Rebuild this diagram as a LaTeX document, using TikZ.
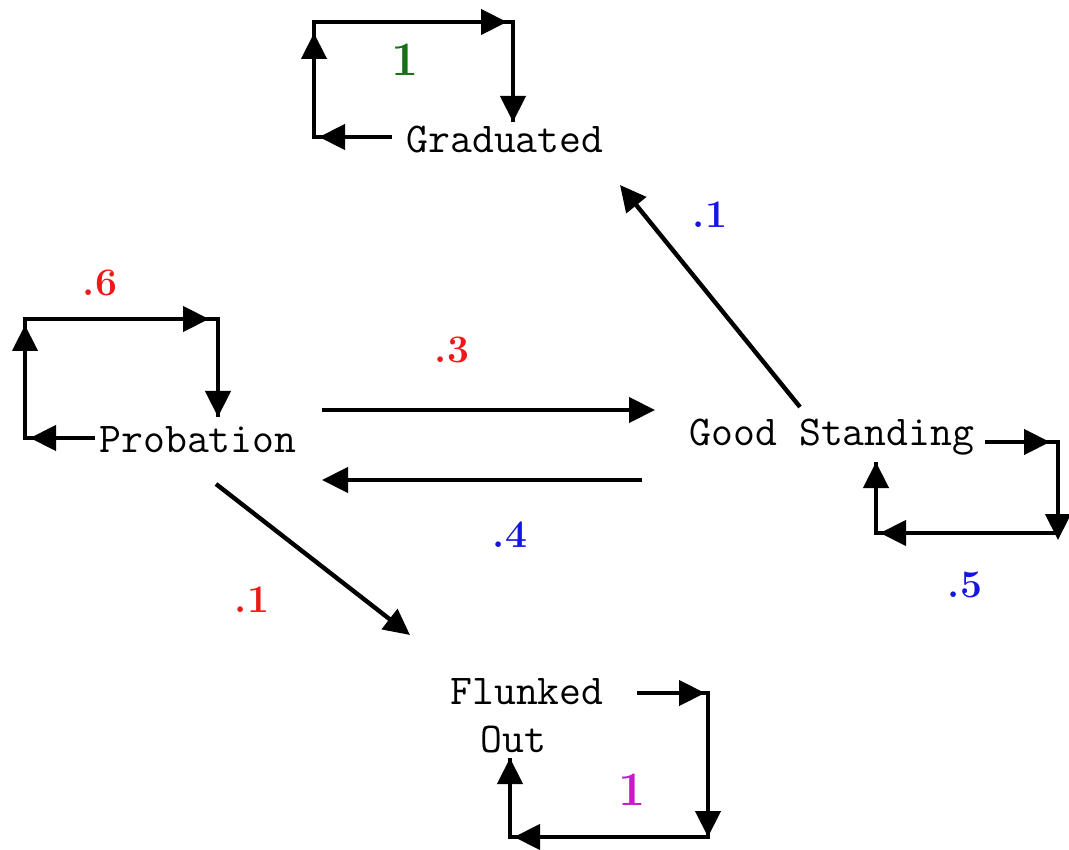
\documentclass[tikz,border=0pt]{standalone}
\usetikzlibrary{arrows.meta,calc}
\definecolor{wred}{RGB}{238,24,24}
\definecolor{wblue}{RGB}{22,22,228}
\definecolor{wgreen}{RGB}{22,112,22}
\definecolor{wmagenta}{RGB}{205,22,205}
\tikzset{
  state/.style={font=\fontsize{42.5}{48}\selectfont\ttfamily, inner sep=0pt},
  weight/.style={font=\fontsize{39}{44}\selectfont\bfseries, inner sep=0pt},
  unit/.style={font=\fontsize{48}{56}\selectfont\bfseries, inner sep=0pt},
  rail/.style={line width=4.4pt, line join=miter},
  edge/.style={line width=4.4pt, -{Triangle[length=26pt,width=25pt]}},
}
\begin{document}
\begin{tikzpicture}[x=1pt,y=-1pt]
\useasboundingbox (0,0) rectangle (1069,850);

% states
\node[state] (grad)  at (505,140) {Graduated};
\node[state] (prob)  at (198,440) {Probation};
\node[state] (good)  at (832,437) {Good Standing};
\node[state, align=left] (flunk) at (527,716) {Flunked\\\hspace{30pt}Out};

% transitions between states
\draw[edge] ($(prob)+(124,-30)$) -- ($(good)+(-177,-27)$);
\draw[edge] ($(good)+(-190,43)$) -- ($(prob)+(124,40)$);
\draw[edge] ($(good)+(-32,-30)$) -- ($(grad)+(115,45)$);
\draw[edge] ($(prob)+(18,44)$) -- ($(flunk)+(-117,-81)$);

% self loop: Graduated
\coordinate (g0) at ($(grad)+(-113,-3)$);
\coordinate (g1) at (314,137);
\coordinate (g2) at (314,22);
\coordinate (g3) at (513,22);
\coordinate (g4) at (513,122);
\draw[rail] (g0) -- (g1) -- (g2) -- (g3) -- (g4);
\draw[edge, shorten >=5pt] (g0) -- (g1);
\draw[edge, shorten >=11pt] (g1) -- (g2);
\draw[edge, shorten >=6pt] (g2) -- (g3);
\draw[edge] (g3) -- (g4);

% self loop: Probation
\coordinate (p0) at ($(prob)+(-103,-2)$);
\coordinate (p1) at (25,438);
\coordinate (p2) at (25,319);
\coordinate (p3) at (218,319);
\coordinate (p4) at (218,417);
\draw[rail] (p0) -- (p1) -- (p2) -- (p3) -- (p4);
\draw[edge, shorten >=5pt] (p0) -- (p1);
\draw[edge, shorten >=6pt] (p1) -- (p2);
\draw[edge, shorten >=9pt] (p2) -- (p3);
\draw[edge] (p3) -- (p4);

% self loop: Good Standing
\coordinate (s0) at ($(good)+(153,5)$);
\coordinate (s1) at (1058,442);
\coordinate (s2) at (1058,533);
\coordinate (s3) at (876,533);
\coordinate (s4) at (876,462);
\draw[rail] (s0) -- (s1) -- (s2) -- (s3) -- (s4);
\draw[edge, shorten >=8pt] (s0) -- (s1);
\draw[edge, shorten >=-7pt] (s1) -- (s2);
\draw[edge, shorten >=4pt] (s2) -- (s3);
\draw[edge] (s3) -- (s4);

% self loop: Flunked Out
\coordinate (f0) at ($(flunk)+(110,-23)$);
\coordinate (f1) at (708,693);
\coordinate (f2) at (708,837);
\coordinate (f3) at (510,837);
\coordinate (f4) at (510,758);
\draw[rail] (f0) -- (f1) -- (f2) -- (f3) -- (f4);
\draw[edge, shorten >=3pt] (f0) -- (f1);
\draw[edge] (f1) -- (f2);
\draw[edge, shorten >=4pt] (f2) -- (f3);
\draw[edge] (f3) -- (f4);

% transition probabilities
\node[weight, text=wred]  (w6)  at (100,283) {.6};
\node[weight, text=wred]  (w3)  at (452,350) {.3};
\node[weight, text=wblue] (w4)  at (510,535) {.4};
\node[weight, text=wblue] (w1b) at (710,215) {.1};
\node[weight, text=wred]  (w1r) at (252,600) {.1};
\node[weight, text=wblue] (w5)  at (965,585) {.5};
\node[unit, text=wgreen]   (u1) at (405,60)  {1};
\node[unit, text=wmagenta] (u2) at (632,790) {1};
\end{tikzpicture}
\end{document}
